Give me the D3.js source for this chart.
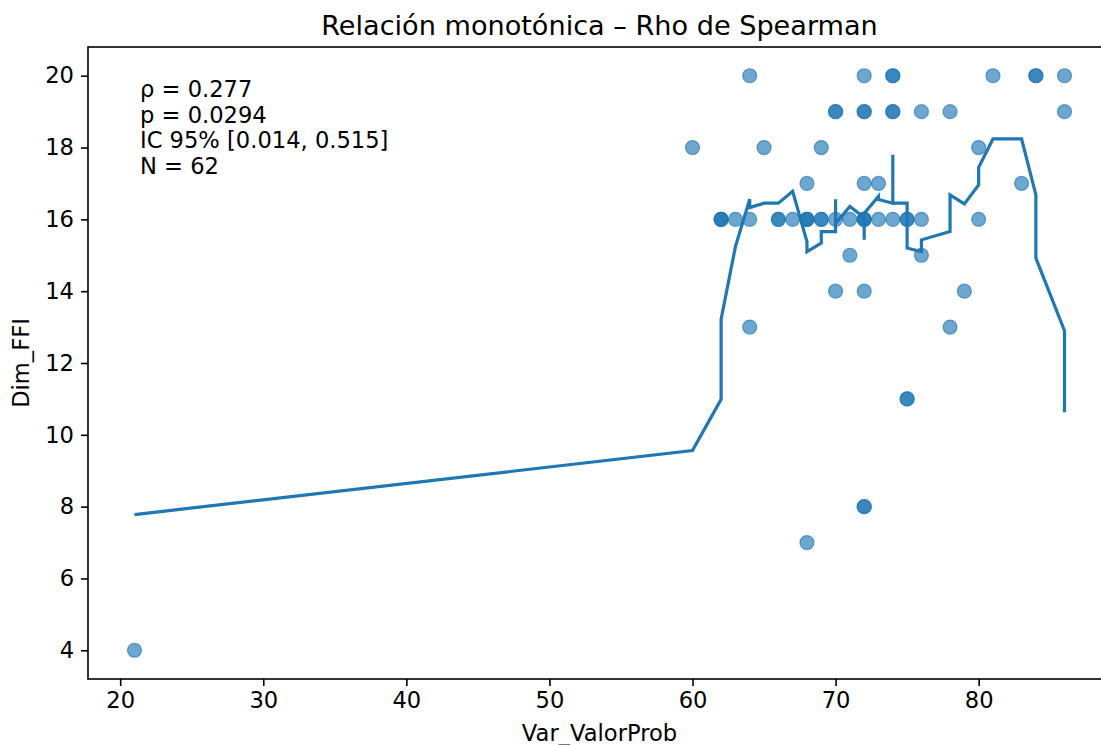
<!DOCTYPE html>
<html>
<head>
<meta charset="utf-8">
<script src="https://cdn.jsdelivr.net/npm/d3@7"></script>
<style>
  body { margin: 0; background: #fff; }
  text { font-family: "DejaVu Sans", sans-serif; fill: #000; }
</style>
</head>
<body>
<svg id="chart" width="1101" height="745"></svg>
<script>
// scatter points (Var_ValorProb, Dim_FFI)
var ptX = [21, 60, 62, 62, 62, 63, 64, 64, 64, 65, 66, 66, 67, 68, 68, 68, 68, 68,
  69, 69, 69, 70, 70, 70, 70, 71, 71, 72, 72, 72, 72, 72, 72, 72, 72, 72, 72,
  73, 73, 74, 74, 74, 74, 74, 75, 75, 75, 75, 76, 76, 76, 78, 78, 79, 80, 80,
  81, 83, 84, 84, 86, 86];
var ptY = [4, 18, 16, 16, 16, 16, 16, 20, 13, 18, 16, 16, 16, 16, 16, 16, 17, 7,
  16, 16, 18, 19, 19, 16, 14, 16, 15, 20, 19, 19, 17, 16, 16, 16, 14, 8, 8,
  17, 16, 20, 20, 19, 19, 16, 16, 16, 11, 11, 19, 16, 15, 19, 13, 14, 18, 16,
  20, 17, 20, 20, 20, 19];

// smoothed trend line, in drawing order
var lineX = [21, 60, 62, 62, 63, 64, 64, 65, 66, 67, 68, 68, 69, 69, 70, 70, 70,
  71, 72, 72, 72, 73, 73, 74, 74, 74, 75, 75, 76, 76, 78, 78, 79, 80, 80, 81,
  83, 84, 84, 86, 86];
var lineY = [7.78, 9.56, 10.99, 13.22, 15.24, 16.56, 16.33, 16.45, 16.45, 16.78,
  15.38, 15.10, 15.34, 15.66, 15.66, 16.56, 15.89, 16.36, 16.05, 15.43, 16.17,
  16.64, 16.55, 16.45, 17.80, 16.45, 16.45, 15.20, 15.10, 15.43, 15.66, 16.68,
  16.43, 16.96, 17.45, 18.24, 18.24, 16.68, 14.92, 12.90, 10.63];

var xTicks = [20, 30, 40, 50, 60, 70, 80];
var yTicks = [4, 6, 8, 10, 12, 14, 16, 18, 20];
var statLines = ["ρ = 0.277", "p = 0.0294", "IC 95% [0.014, 0.515]", "N = 62"];

var svg = d3.select("#chart");
var pLeft = 88, pTop = 47, pRight = 1111, pBottom = 679;
var blue = "#1f77b4";
var fs = 22.6;

var x = d3.scaleLinear().domain([17.75, 89.25]).range([pLeft, pRight]);
var y = d3.scaleLinear().domain([3.2, 20.8]).range([pBottom, pTop]);

// points
svg.append("g")
  .selectAll("circle")
  .data(ptX)
  .enter()
  .append("circle")
    .attr("cx", function (d) { return x(d); })
    .attr("cy", function (d, i) { return y(ptY[i]); })
    .attr("r", 7)
    .style("fill", blue)
    .style("fill-opacity", 0.65)
    .style("stroke", blue)
    .style("stroke-opacity", 0.65)
    .style("stroke-width", 1.2);

// trend line
var line = d3.line()
  .x(function (d) { return x(d); })
  .y(function (d, i) { return y(lineY[i]); });
svg.append("path")
  .attr("d", line(lineX))
  .attr("fill", "none")
  .attr("stroke", blue)
  .attr("stroke-width", 3.2)
  .attr("stroke-linejoin", "miter");

// axes
var xAxis = svg.append("g")
  .attr("transform", "translate(0," + pBottom + ")")
  .call(d3.axisBottom(x).tickValues(xTicks).tickSizeOuter(0).tickSize(7).tickPadding(6));
var yAxis = svg.append("g")
  .attr("transform", "translate(" + pLeft + ",0)")
  .call(d3.axisLeft(y).tickValues(yTicks).tickSizeOuter(0).tickSize(7).tickPadding(7));
[xAxis, yAxis].forEach(function (g) {
  g.select(".domain").remove();
  g.selectAll(".tick line").attr("stroke", "#000").attr("stroke-width", 1.6);
  g.selectAll(".tick text").style("font-size", fs + "px").style("font-family", "DejaVu Sans");
});

// spines
svg.append("rect")
  .attr("x", pLeft).attr("y", pTop)
  .attr("width", pRight - pLeft).attr("height", pBottom - pTop)
  .attr("fill", "none").attr("stroke", "#000").attr("stroke-width", 1.6);

// stats box text
svg.append("g")
  .selectAll("text")
  .data(statLines)
  .enter()
  .append("text")
    .attr("x", 140)
    .attr("y", function (d, i) { return 97 + i * 25.5; })
    .style("font-size", fs + "px")
    .text(function (d) { return d; });

// title and labels
svg.append("text")
  .attr("x", (pLeft + pRight) / 2).attr("y", 35)
  .attr("text-anchor", "middle")
  .style("font-size", (fs * 1.2) + "px")
  .text("Relación monotónica – Rho de Spearman");

svg.append("text")
  .attr("x", (pLeft + pRight) / 2).attr("y", 741)
  .attr("text-anchor", "middle")
  .style("font-size", fs + "px")
  .text("Var_ValorProb");

svg.append("text")
  .attr("transform", "translate(29," + (pTop + pBottom) / 2 + ") rotate(-90)")
  .attr("text-anchor", "middle")
  .style("font-size", fs + "px")
  .text("Dim_FFI");
</script>
</body>
</html>
